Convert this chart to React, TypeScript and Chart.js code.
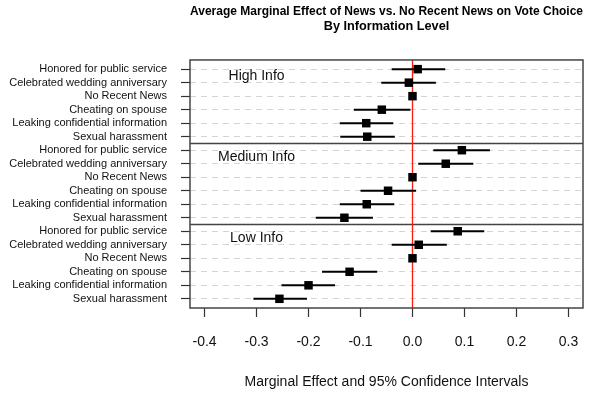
import React, { useEffect, useRef } from "react";
import { Chart, registerables } from "chart.js";

Chart.register(...registerables);

const titleLines = [
  "Average Marginal Effect of News vs. No Recent News on Vote Choice",
  "By Information Level",
];
const xAxisTitle = "Marginal Effect and 95% Confidence Intervals";
const categories = [
  "Honored for public service",
  "Celebrated wedding anniversary",
  "No Recent News",
  "Cheating on spouse",
  "Leaking confidential information",
  "Sexual harassment",
];
const groups = ["High Info", "Medium Info", "Low Info"];
const xTicks = [-0.4, -0.3, -0.2, -0.1, 0.0, 0.1, 0.2, 0.3];

const highEst = [0.010, -0.007, 0, -0.059, -0.089, -0.087];
const highLo = [-0.040, -0.060, 0, -0.113, -0.140, -0.139];
const highHi = [0.063, 0.045, 0, -0.004, -0.037, -0.034];

const medEst = [0.095, 0.064, 0, -0.047, -0.088, -0.131];
const medLo = [0.040, 0.011, 0, -0.100, -0.140, -0.186];
const medHi = [0.149, 0.117, 0, 0.007, -0.035, -0.076];

const lowEst = [0.087, 0.012, 0, -0.121, -0.200, -0.256];
const lowLo = [0.035, -0.040, 0, -0.174, -0.252, -0.306];
const lowHi = [0.138, 0.066, 0, -0.068, -0.149, -0.203];

const groupEst = [highEst, medEst, lowEst];
const groupLo = [highLo, medLo, lowLo];
const groupHi = [highHi, medHi, lowHi];

const groupLabelX = -0.3;
const refLineX = 0;

export default function App() {
  const ref = useRef<HTMLCanvasElement | null>(null);

  useEffect(() => {
    if (!ref.current) return;
    Chart.defaults.font.family = "'Liberation Sans', Arial, sans-serif";

    const n = categories.length;
    const total = n * groups.length;
    const rowLabels: string[] = [];
    const points: { x: number; y: number }[] = [];
    const bars: any[] = [];
    groups.forEach((g, gi) => {
      categories.forEach((c, ci) => {
        const row = gi * n + ci + 1;
        rowLabels.push(c);
        points.push({ x: groupEst[gi][ci], y: row });
        if (groupLo[gi][ci] !== groupHi[gi][ci]) {
          bars.push({
            type: "line",
            data: [
              { x: groupLo[gi][ci], y: row },
              { x: groupHi[gi][ci], y: row },
            ],
            borderColor: "#000",
            borderWidth: 2,
            pointRadius: 0,
            showLine: true,
            order: 2,
          });
        }
      });
    });

    const ext = 0.04 * (total - 1);
    const yMin = 1 - ext;
    const yMax = total + ext;
    const xr = xTicks[xTicks.length - 1] - xTicks[0];
    const xMin = xTicks[0] - 0.04 * xr;
    const xMax = xTicks[xTicks.length - 1] + 0.04 * xr;
    const breaks = groups.slice(1).map((_, i) => (i + 1) * n + 0.5);

    const framePlugin = {
      id: "frame",
      beforeDatasetsDraw(chart: any) {
        const { ctx, chartArea, scales } = chart;
        const xs = scales.x;
        const ys = scales.y;
        ctx.save();
        ctx.strokeStyle = "#444";
        ctx.lineWidth = 1.5;
        breaks.forEach((b) => {
          const y = ys.getPixelForValue(b);
          ctx.beginPath();
          ctx.moveTo(chartArea.left, y);
          ctx.lineTo(chartArea.right, y);
          ctx.stroke();
        });
        const x0 = xs.getPixelForValue(refLineX);
        ctx.strokeStyle = "#ff1a0a";
        ctx.lineWidth = 1.3;
        ctx.beginPath();
        ctx.moveTo(x0, chartArea.top);
        ctx.lineTo(x0, chartArea.bottom);
        ctx.stroke();
        ctx.fillStyle = "#111";
        ctx.font = "14px 'Liberation Sans', Arial, sans-serif";
        ctx.textAlign = "center";
        ctx.textBaseline = "middle";
        groups.forEach((g, gi) => {
          ctx.fillText(
            g,
            xs.getPixelForValue(groupLabelX),
            ys.getPixelForValue(gi * n + 1.5)
          );
        });
        ctx.restore();
      },
      afterDatasetsDraw(chart: any) {
        const { ctx, chartArea } = chart;
        ctx.save();
        ctx.strokeStyle = "#444";
        ctx.lineWidth = 1.5;
        ctx.strokeRect(
          chartArea.left,
          chartArea.top,
          chartArea.right - chartArea.left,
          chartArea.bottom - chartArea.top
        );
        ctx.restore();
      },
    };

    const chart = new Chart(ref.current, {
      type: "scatter",
      data: {
        datasets: [
          ...bars,
          {
            type: "scatter",
            data: points,
            pointStyle: "rect",
            radius: 6,
            backgroundColor: "#000",
            borderWidth: 0,
            order: 1,
          },
        ],
      },
      options: {
        animation: false,
        responsive: false,
        layout: { padding: { left: 0, right: 7, top: 0, bottom: 0 } },
        plugins: {
          legend: { display: false },
          tooltip: { enabled: false },
          title: {
            display: true,
            text: titleLines,
            fullSize: false,
            color: "#000",
            font: { size: 12.7, weight: "bold", lineHeight: 1.16 },
            padding: { top: 4, bottom: 26.5 },
          },
        },
        scales: {
          x: {
            type: "linear",
            min: xMin,
            max: xMax,
            afterBuildTicks(scale: any) {
              scale.ticks = xTicks.map((v) => ({ value: v }));
            },
            afterFit(scale: any) {
              scale.height = 85;
              scale.paddingLeft = 0;
              scale.paddingRight = 0;
            },
            ticks: {
              color: "#111",
              font: { size: 14 },
              padding: 16.3,
              maxRotation: 0,
              callback: (v: any) => Number(v).toFixed(1),
            },
            grid: {
              drawOnChartArea: false,
              drawTicks: true,
              tickLength: 9,
              tickColor: "#333",
              tickWidth: 1.2,
            },
            border: { display: false },
            title: {
              display: true,
              text: xAxisTitle,
              color: "#111",
              font: { size: 14 },
              padding: { top: 0, bottom: 2.9 },
            },
          },
          y: {
            type: "linear",
            reverse: true,
            min: yMin,
            max: yMax,
            afterBuildTicks(scale: any) {
              scale.ticks = rowLabels.map((_, i) => ({ value: i + 1 }));
            },
            afterFit(scale: any) {
              scale.width = 190;
              scale.paddingTop = 0;
              scale.paddingBottom = 0;
            },
            ticks: {
              color: "#111",
              font: { size: 11 },
              padding: 14,
              autoSkip: false,
              callback: (v: any) => rowLabels[Math.round(Number(v)) - 1] ?? "",
            },
            grid: {
              color: "#d4d4d4",
              lineWidth: 1,
              drawTicks: true,
              tickLength: 9,
              tickColor: "#333",
              tickWidth: 1.2,
              tickBorderDash: [],
            },
            border: { display: false, dash: [6, 5] },
          },
        },
      },
      plugins: [framePlugin],
    } as any);

    return () => chart.destroy();
  }, []);

  return (
    <div style={{ position: "absolute", left: 0, top: 0, width: 590, height: 393, background: "#fff" }}>
      <canvas ref={ref} width={590} height={393} />
    </div>
  );
}
